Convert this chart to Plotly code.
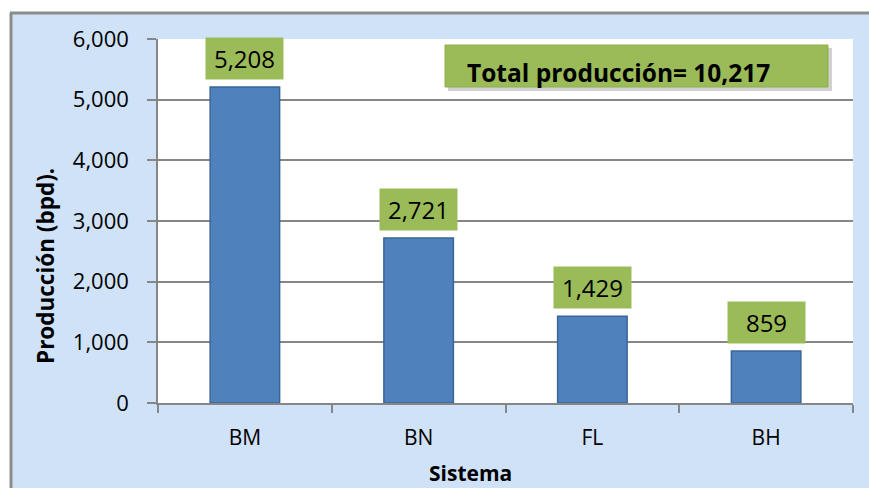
import plotly.graph_objects as go

categories = ["BM", "BN", "FL", "BH"]
values = [5208, 2721, 1429, 859]
value_labels = ["5,208", "2,721", "1,429", "859"]
total_label = "Total producción= 10,217"
y_ticks = [0, 1000, 2000, 3000, 4000, 5000, 6000]
y_tick_labels = ["0", "1,000", "2,000", "3,000", "4,000", "5,000", "6,000"]

W, H = 869, 488
L, R, T, B = 158, 16, 39, 85
pw, ph = W - L - R, H - T - B

def px(x):
    return (x - L) / pw

def py(y):
    return (H - B - y) / ph

FONT = "Open Sans"
BLUE_BG = "#CFE2F8"

fig = go.Figure()
fig.add_trace(go.Bar(
    x=categories, y=values, width=0.4,
    marker=dict(color="#4F81BD", line=dict(color="#3A6598", width=1.5)),
    hoverinfo="skip",
))

for c, v, t in zip(categories, values, value_labels):
    fig.add_annotation(x=c, y=v, text=t, showarrow=False, yanchor="bottom",
                       yshift=7, bgcolor="#9BBB59", borderpad=4, width=69, height=33,
                       font=dict(family=FONT, size=24, color="black"))

shapes = []
# white outside the frame
shapes.append(dict(type="rect", xref="paper", yref="paper", x0=px(-5), x1=px(10),
                   y0=py(H + 5), y1=py(-5), fillcolor="white", line_width=0, layer="below"))
shapes.append(dict(type="rect", xref="paper", yref="paper", x0=px(-5), x1=px(W + 5),
                   y0=py(12), y1=py(-5), fillcolor="white", line_width=0, layer="below"))
# frame lines
shapes.append(dict(type="line", xref="paper", yref="paper", x0=px(11), x1=px(11),
                   y0=py(13), y1=py(H + 5), line=dict(color="#8C8C8C", width=3)))
shapes.append(dict(type="line", xref="paper", yref="paper", x0=px(10), x1=px(W + 5),
                   y0=py(13), y1=py(13), line=dict(color="#8C8C8C", width=3)))
# total box shadow and box
shapes.append(dict(type="rect", xref="paper", yref="paper", x0=px(448), x1=px(832),
                   y0=py(91), y1=py(48), fillcolor="rgba(0,0,0,0.18)", line_width=0))
shapes.append(dict(type="rect", xref="paper", yref="paper", x0=px(445), x1=px(828),
                   y0=py(87), y1=py(45), fillcolor="#9BBB59", line=dict(color="#8DB04A", width=1)))

fig.add_annotation(xref="paper", yref="paper", x=px(465), y=py(72), xanchor="left",
                   yanchor="middle", text="<b>" + total_label + "</b>", showarrow=False,
                   font=dict(family=FONT, size=24.5, color="black"))

fig.add_annotation(xref="paper", yref="paper", x=px(470), y=py(473), xanchor="center",
                   yanchor="middle", text="<b>Sistema</b>", showarrow=False,
                   font=dict(family=FONT, size=21, color="black"))
fig.add_annotation(xref="paper", yref="paper", x=px(45), y=py(266), xanchor="center",
                   yanchor="middle", text="<b>Producción (bpd).</b>", showarrow=False,
                   textangle=-90, font=dict(family=FONT, size=22.5, color="black"))

fig.update_layout(
    width=W, height=H,
    margin=dict(l=L, r=R, t=T, b=B),
    paper_bgcolor=BLUE_BG, plot_bgcolor="white",
    showlegend=False,
    shapes=shapes,
    xaxis=dict(
        showgrid=False, ticks="outside", tickson="boundaries", ticklen=8,
        tickcolor="#868686", tickwidth=1.5,
        showline=True, linecolor="#868686", linewidth=1.5,
        ticklabelstandoff=15,
        tickfont=dict(family=FONT, size=21, color="black"),
    ),
    yaxis=dict(
        range=[0, 6000], tickvals=y_ticks, ticktext=y_tick_labels,
        showgrid=True, gridcolor="#868686", gridwidth=1.5,
        ticks="outside", ticklen=9, tickcolor="#868686", tickwidth=1.5,
        showline=True, linecolor="#868686", linewidth=1.5,
        ticklabelstandoff=14,
        tickfont=dict(family=FONT, size=22, color="black"),
        zeroline=False,
    ),
)

fig.write_html("out.html")
